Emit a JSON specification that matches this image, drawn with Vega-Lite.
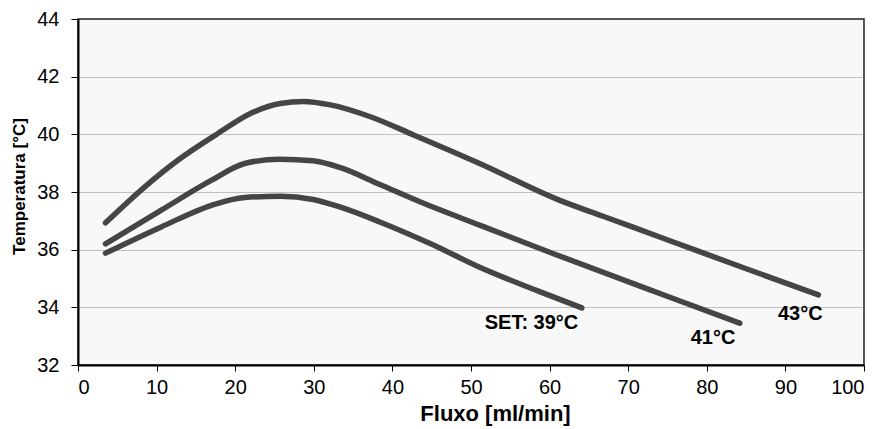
{
  "$schema": "https://vega.github.io/schema/vega-lite/v6.json",
  "width": 786,
  "height": 346,
  "autosize": {"type": "none"},
  "padding": {"left": 78, "top": 19, "right": 20, "bottom": 64},
  "background": "white",
  "config": {
    "view": {"fill": "#f8f8f8", "stroke": "#222", "strokeWidth": 1.5},
    "font": "Liberation Sans",
    "axis": {"labelFont": "Liberation Sans", "titleFont": "Liberation Sans"}
  },
  "datasets": {
    "curves": [
      {"series": "43", "x": 3.5, "y": 36.93},
      {"series": "43", "x": 8.5, "y": 38.18},
      {"series": "43", "x": 12.7, "y": 39.1},
      {"series": "43", "x": 17.8, "y": 40.03},
      {"series": "43", "x": 22.0, "y": 40.73},
      {"series": "43", "x": 25.7, "y": 41.07},
      {"series": "43", "x": 28.7, "y": 41.14},
      {"series": "43", "x": 32.1, "y": 41.02},
      {"series": "43", "x": 37.2, "y": 40.61},
      {"series": "43", "x": 42.7, "y": 39.98},
      {"series": "43", "x": 51.1, "y": 38.99},
      {"series": "43", "x": 61.3, "y": 37.71},
      {"series": "43", "x": 66.8, "y": 37.16},
      {"series": "43", "x": 75.3, "y": 36.31},
      {"series": "43", "x": 85.1, "y": 35.33},
      {"series": "43", "x": 94.2, "y": 34.43},
      {"series": "41", "x": 3.5, "y": 36.2},
      {"series": "41", "x": 10.6, "y": 37.37},
      {"series": "41", "x": 17.0, "y": 38.41},
      {"series": "41", "x": 21.2, "y": 38.99},
      {"series": "41", "x": 25.7, "y": 39.14},
      {"series": "41", "x": 29.9, "y": 39.08},
      {"series": "41", "x": 33.3, "y": 38.85},
      {"series": "41", "x": 38.4, "y": 38.26},
      {"series": "41", "x": 43.5, "y": 37.66},
      {"series": "41", "x": 51.1, "y": 36.85},
      {"series": "41", "x": 60.5, "y": 35.86},
      {"series": "41", "x": 75.3, "y": 34.35},
      {"series": "41", "x": 84.2, "y": 33.45},
      {"series": "39", "x": 3.5, "y": 35.88},
      {"series": "39", "x": 10.6, "y": 36.79},
      {"series": "39", "x": 17.0, "y": 37.54},
      {"series": "39", "x": 21.2, "y": 37.81},
      {"series": "39", "x": 25.7, "y": 37.85},
      {"series": "39", "x": 29.9, "y": 37.74},
      {"series": "39", "x": 33.3, "y": 37.48},
      {"series": "39", "x": 38.4, "y": 36.96},
      {"series": "39", "x": 44.8, "y": 36.21},
      {"series": "39", "x": 51.1, "y": 35.39},
      {"series": "39", "x": 58.4, "y": 34.58},
      {"series": "39", "x": 64.1, "y": 33.98}
    ],
    "labels": [
      {"label": "SET: 39°C", "x": 57.7, "y": 33.46},
      {"label": "41°C", "x": 80.8, "y": 32.95},
      {"label": "43°C", "x": 91.9, "y": 33.78}
    ]
  },
  "layer": [
    {
      "data": {"name": "curves"},
      "mark": {"type": "line", "color": "#454545", "strokeWidth": 5.5, "strokeCap": "round", "interpolate": "monotone"},
      "encoding": {
        "x": {
          "field": "x", "type": "quantitative",
          "scale": {"domain": [0, 100], "nice": false},
          "axis": {
            "values": [0, 10, 20, 30, 40, 50, 60, 70, 80, 90, 100],
            "title": "Fluxo [ml/min]",
            "titleFontSize": 22, "titleFontWeight": "bold", "titleColor": "#000",
            "titleX": 417, "titleY": 55, "titleAlign": "center", "titleBaseline": "alphabetic",
            "labelFontSize": 20, "labelColor": "#000", "labelPadding": 6,
            "tickSize": 6, "tickColor": "#000", "tickWidth": 1,
            "domainColor": "#000", "domainWidth": 2,
            "grid": false
          }
        },
        "y": {
          "field": "y", "type": "quantitative",
          "scale": {"domain": [32, 44], "nice": false},
          "axis": {
            "values": [32, 33, 34, 35, 36, 37, 38, 39, 40, 41, 42, 43, 44],
            "labelExpr": "datum.value % 2 == 0 ? datum.label : ''",
            "title": "Temperatura [°C]",
            "titleFontSize": 17, "titleFontWeight": "bold", "titleColor": "#000",
            "titleAngle": -90, "titleX": -59, "titleY": 167, "titleAlign": "center", "titleBaseline": "middle",
            "labelFontSize": 20, "labelColor": "#000", "labelPadding": 12,
            "tickSize": {"condition": {"test": "datum.value % 2 == 1", "value": -5}, "value": 7},
            "tickColor": "#000", "tickWidth": 1,
            "domainColor": "#000", "domainWidth": 2,
            "grid": true, "gridColor": "#888", "gridDash": [1, 1], "gridWidth": 1,
            "gridOpacity": {"condition": {"test": "datum.value % 2 == 1 || datum.value == 32 || datum.value == 44", "value": 0}, "value": 1}
          }
        },
        "detail": {"field": "series", "type": "nominal"}
      }
    },
    {
      "data": {"name": "labels"},
      "mark": {"type": "text", "fontSize": 20, "fontWeight": "bold", "color": "#000", "align": "center", "baseline": "middle"},
      "encoding": {
        "x": {"field": "x", "type": "quantitative"},
        "y": {"field": "y", "type": "quantitative"},
        "text": {"field": "label", "type": "nominal"}
      }
    }
  ]
}
